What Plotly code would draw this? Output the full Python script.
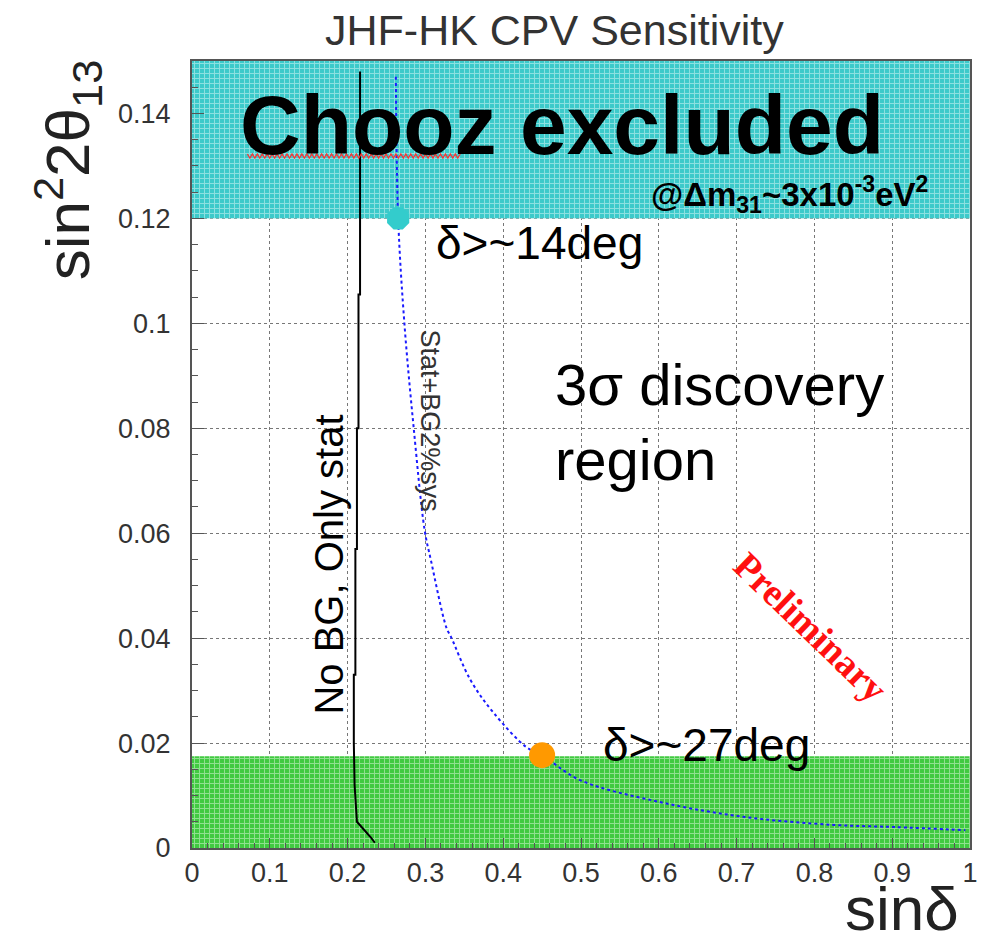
import plotly.graph_objects as go

# ---- data ----
x_ticks = [0, 0.1, 0.2, 0.3, 0.4, 0.5, 0.6, 0.7, 0.8, 0.9, 1.0]
x_tick_labels = ["0", "0.1", "0.2", "0.3", "0.4", "0.5", "0.6", "0.7", "0.8", "0.9", "1"]
y_ticks = [0, 0.02, 0.04, 0.06, 0.08, 0.1, 0.12, 0.14]
y_tick_labels = ["0", "0.02", "0.04", "0.06", "0.08", "0.1", "0.12", "0.14"]

# Stat+BG2%sys curve (blue dotted)
sys_x = [0.262, 0.265, 0.273, 0.285, 0.299, 0.307, 0.327, 0.333, 0.358, 0.388, 0.43, 0.45, 0.498, 0.6, 0.711, 0.825, 0.902, 0.994]
sys_y = [0.147, 0.12, 0.10, 0.080, 0.0606, 0.0549, 0.042, 0.0402, 0.032, 0.0257, 0.0192, 0.0177, 0.013, 0.0088, 0.0059, 0.0044, 0.0040, 0.0034]

# No BG, only stat curve (black)
stat_x = [0.235, 0.23, 0.212, 0.209, 0.208, 0.208, 0.210, 0.210, 0.212, 0.212, 0.214, 0.214, 0.216, 0.216]
stat_y = [0.001, 0.002, 0.005, 0.012, 0.020, 0.033, 0.033, 0.057, 0.057, 0.080, 0.080, 0.1055, 0.1055, 0.148]

# Excluded / bands
chooz_band = [0.12, 0.15]
low_band = [0.0, 0.0175]

# Highlight points
pt14 = (0.265, 0.12)
pt27 = (0.45, 0.0177)

X_RANGE = [0, 1]
Y_RANGE = [0, 0.15]

fig = go.Figure()

# bands
fig.add_trace(go.Scatter(
    x=[X_RANGE[0], X_RANGE[1], X_RANGE[1], X_RANGE[0], X_RANGE[0]],
    y=[chooz_band[0], chooz_band[0], chooz_band[1], chooz_band[1], chooz_band[0]],
    fill="toself", mode="none", fillcolor="#45cccc",
    fillpattern=dict(shape="+", fgcolor="rgba(255,255,255,0.85)", bgcolor="#3ccaca", size=5, solidity=0.35),
    hoverinfo="skip", showlegend=False))
fig.add_trace(go.Scatter(
    x=[X_RANGE[0], X_RANGE[1], X_RANGE[1], X_RANGE[0], X_RANGE[0]],
    y=[low_band[0], low_band[0], low_band[1], low_band[1], low_band[0]],
    fill="toself", mode="none", fillcolor="#44cc44",
    fillpattern=dict(shape="+", fgcolor="rgba(255,255,255,0.85)", bgcolor="#40ca40", size=5, solidity=0.35),
    hoverinfo="skip", showlegend=False))

# curves
fig.add_trace(go.Scatter(x=stat_x, y=stat_y, mode="lines",
                         line=dict(color="black", width=2), showlegend=False))
fig.add_trace(go.Scatter(x=sys_x, y=sys_y, mode="lines", line_shape="spline",
                         line=dict(color="#1a1aff", width=2, dash="dot"), showlegend=False))

# highlight markers
fig.add_trace(go.Scatter(x=[pt14[0]], y=[pt14[1]], mode="markers",
                         marker=dict(symbol="octagon", size=24, color="#33cccc"), showlegend=False))
fig.add_trace(go.Scatter(x=[pt27[0]], y=[pt27[1]], mode="markers",
                         marker=dict(symbol="circle", size=26, color="#ff9900"), showlegend=False))

L, R, T, B = 192, 6, 61, 98
W, H = 984, 946
pw, ph = W - L - R, H - T - B

def px(xp):
    return (xp - L) / pw

def py(yp):
    return (H - B - yp) / ph

font = "Liberation Sans, Arial, sans-serif"

def A(text, xp, yp, size, color="black", angle=0, family=font, **kw):
    d = dict(text=text, x=px(xp), y=py(yp), xref="paper", yref="paper",
             xanchor="center", yanchor="middle", showarrow=False, textangle=angle,
             font=dict(size=size, color=color, family=family))
    d.update(kw)
    return d

ann = [
    A("JHF-HK CPV Sensitivity", 558, 30, 43, "#333333"),
    A("sin<sup>2</sup>2θ<sub>13</sub>", 66, 170, 62, "#222222", angle=-90),
    A("sinδ", 909, 908, 62, "#222222"),
    A("<b>Chooz excluded</b>", 566, 125, 84),
    A("<b>@Δm<sub>31</sub>~3x10<sup>-3</sup>eV<sup>2</sup></b>", 796, 194, 33),
    A("δ>~14deg", 543, 243, 46),
    A("No BG, Only stat", 330, 565, 40, angle=-90),
    A("Stat+BG2%sys", 432, 420, 27, "#333333", angle=90),
    A("<b>Preliminary</b>", 817, 627, 38, "#ff1010", angle=44,
      family="Liberation Serif, Times New Roman, serif"),
    A("δ>~27deg", 712, 745, 46),
]
ann.append(dict(text="3σ discovery<br>region", x=px(557), y=py(422), xref="paper", yref="paper",
                xanchor="left", yanchor="middle", align="left", showarrow=False,
                font=dict(size=58, color="black", family=font)))

# red wavy (spell-check style) underline under "Chooz"
zx0, zx1, zy, amp, step = 248, 465, 156, 2, 2.5
pts = []
k = 0
xx = zx0
while xx <= zx1:
    yy = zy + (amp if k % 2 else -amp)
    pts.append(f"{px(xx):.5f},{py(yy):.5f}")
    xx += step
    k += 1
wave_path = "M " + " L ".join(pts)

fig.update_layout(
    width=W, height=H,
    margin=dict(l=L, r=R, t=T, b=B),
    paper_bgcolor="white", plot_bgcolor="white",
    annotations=ann,
    shapes=[dict(type="path", path=wave_path, xref="paper", yref="paper",
                 line=dict(color="#ff3030", width=1.2))],
    showlegend=False,
)
fig.update_xaxes(range=X_RANGE, tickvals=x_ticks, ticktext=x_tick_labels,
                 showgrid=True, gridcolor="#777777", griddash="dot", gridwidth=1,
                 showline=True, linecolor="#555555", linewidth=2, mirror=True,
                 ticks="inside", ticklen=10, tickcolor="#555555",
                 minor=dict(ticks="inside", ticklen=5, dtick=0.02, tickcolor="#555555", showgrid=False),
                 tickfont=dict(size=27, color="#333333", family=font), zeroline=False)
fig.update_yaxes(range=Y_RANGE, tickvals=y_ticks, ticktext=y_tick_labels,
                 showgrid=True, gridcolor="#777777", griddash="dot", gridwidth=1,
                 showline=True, linecolor="#555555", linewidth=2, mirror=True,
                 ticks="inside", ticklen=12, tickcolor="#555555",
                 minor=dict(ticks="inside", ticklen=6, dtick=0.005, tickcolor="#555555", showgrid=False),
                 ticklabelstandoff=14,
                 tickfont=dict(size=27, color="#333333", family=font), zeroline=False)

fig.write_html("out.html")
